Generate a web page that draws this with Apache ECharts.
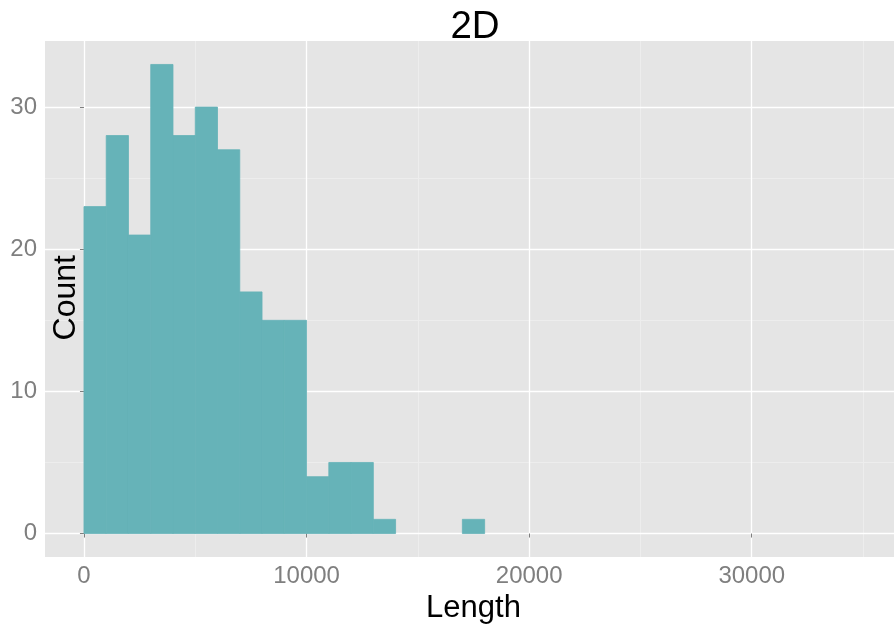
<!DOCTYPE html>
<html><head><meta charset="utf-8">
<script src="https://cdn.jsdelivr.net/npm/echarts@6/dist/echarts.min.js"></script>
<style>html,body{margin:0;padding:0;background:#fff}#c{width:894px;height:630px}</style>
</head><body><div id="c"></div>
<script>
const titleText = '2D';
const xTitle = 'Length';
const yTitle = 'Count';
const binStart = [0,1000,2000,3000,4000,5000,6000,7000,8000,9000,10000,11000,12000,13000,14000,15000,16000,17000];
const binWidth = 1000;
const counts = [23,28,21,33,28,30,27,17,15,15,4,5,5,1,0,0,0,1];
const xMajorTicks = [0,10000,20000,30000];
const xMinorTicks = [5000,15000,25000,35000];
const yMajorTicks = [0,10,20,30];
const yMinorTicks = [5,15,25];
const xRange = [-1750, 36750];
const yRange = [-1.65, 34.65];

const FONT = '"Liberation Sans", Arial, Helvetica, sans-serif';
const chart = echarts.init(document.getElementById('c'), null, {renderer:'canvas'});
const histData = binStart.map((s,i)=>[s, s+binWidth, counts[i]]);
const plain = v => String(v);

function axisCommon(extra){
  return Object.assign({
    type:'value', gridIndex:0,
    axisLine:{show:false},
  }, extra);
}

chart.setOption({
  backgroundColor:'#ffffff',
  animation:false,
  title:{
    text:titleText, left:470, top:3, textAlign:'center',
    textStyle:{fontFamily:FONT, fontSize:38.5, fontWeight:'normal', color:'#000'}
  },
  grid:{left:45, right:-8, top:41, bottom:73, show:true, backgroundColor:'#E5E5E5', borderWidth:0,
    containLabel:false, outerBoundsMode:'none'},
  graphic:[{
    type:'text', left:50, top:255, rotation:Math.PI/2, z:100,
    style:{text:yTitle, fontFamily:FONT, fontSize:32, fill:'#000'}
  }],
  xAxis:[
    axisCommon({
      min:xRange[0], max:xRange[1],
      name:xTitle, nameLocation:'middle', nameGap:32,
      nameTextStyle:{fontFamily:FONT, fontSize:31, color:'#000'},
      axisTick:{show:true, length:4, lineStyle:{color:'#7f7f7f'}, customValues:xMajorTicks},
      axisLabel:{show:true, margin:7, fontFamily:FONT, fontSize:24, color:'#7f7f7f', customValues:xMajorTicks, formatter:plain},
      splitLine:{show:true, lineStyle:{color:'#ffffff', width:1.3}},
      z:3
    }),
    axisCommon({
      min:xRange[0], max:xRange[1],
      axisTick:{show:false, customValues:xMinorTicks},
      axisLabel:{show:false, customValues:xMinorTicks},
      splitLine:{show:true, lineStyle:{color:'#EDEDED', width:1}},
      z:2
    })
  ],
  yAxis:[
    axisCommon({
      min:yRange[0], max:yRange[1],
      axisTick:{show:true, length:4, lineStyle:{color:'#7f7f7f'}, customValues:yMajorTicks},
      axisLabel:{show:true, margin:8, fontFamily:FONT, fontSize:24, color:'#7f7f7f', customValues:yMajorTicks, formatter:plain},
      splitLine:{show:true, lineStyle:{color:'#ffffff', width:1.3}},
      z:3
    }),
    axisCommon({
      min:yRange[0], max:yRange[1],
      axisTick:{show:false, customValues:yMinorTicks},
      axisLabel:{show:false, customValues:yMinorTicks},
      splitLine:{show:true, lineStyle:{color:'#EDEDED', width:1}},
      z:2
    })
  ],
  series:[{
    type:'custom', xAxisIndex:0, yAxisIndex:0,
    data:histData,
    encode:{x:[0,1], y:2},
    renderItem:function(params, api){
      if (!api.value(2)) return null;
      const p0 = api.coord([api.value(0), 0]);
      const p1 = api.coord([api.value(1), api.value(2)]);
      return {type:'rect', shape:{x:p0[0], y:p1[1], width:p1[0]-p0[0], height:p0[1]-p1[1]},
        style:{fill:'#66B3B8', stroke:'#66B3B8', lineWidth:0.8}};
    },
    z:5
  }]
});
</script></body></html>
